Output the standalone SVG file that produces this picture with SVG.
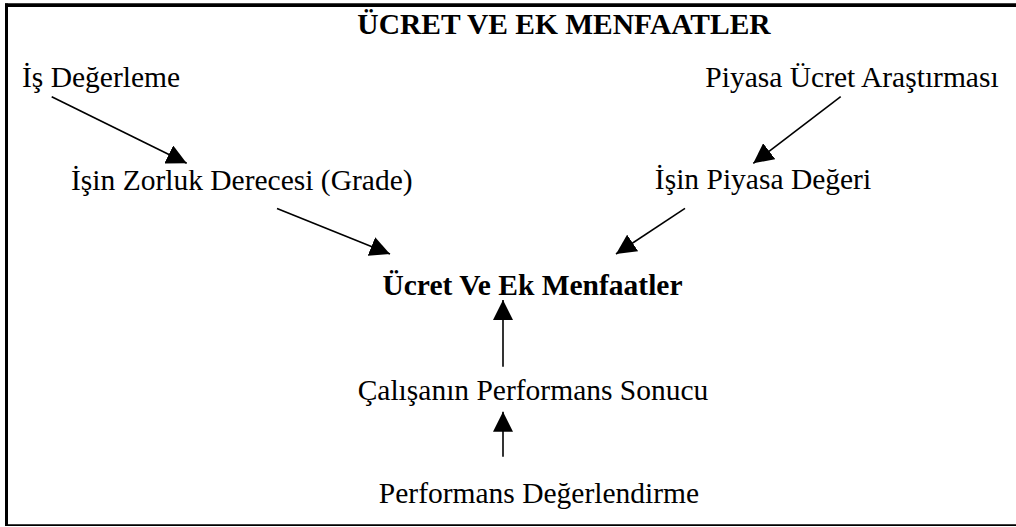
<svg xmlns="http://www.w3.org/2000/svg" width="1016" height="527" viewBox="0 0 1016 527">
  <style>
    text { font-family: "Liberation Serif", "Times New Roman", Times, serif; font-size: 29.5px; fill: #000; }
    .bold { font-weight: bold; }
    .edge { stroke: #000; stroke-width: 1.6; fill: none; marker-end: url(#head); }
    .frame { stroke: #000; fill: none; }
  </style>
  <defs>
    <marker id="head" markerUnits="userSpaceOnUse" markerWidth="20" markerHeight="20" refX="20" refY="10" orient="auto">
      <path d="M0,0 L20,10 L0,20 z" fill="#000"/>
    </marker>
  </defs>
  <rect width="1016" height="527" fill="#fff"/>

  <!-- outer frame (right side runs past the canvas) -->
  <g id="frame">
    <line class="frame" x1="5" y1="5.2" x2="1016" y2="5.2" stroke-width="3.7"/>
    <line class="frame" x1="6.5" y1="3.4" x2="6.5" y2="526" stroke-width="3"/>
    <line class="frame" x1="5" y1="525.2" x2="1016" y2="525.2" stroke-width="1.7"/>
  </g>

  <g id="title">
    <text class="bold" x="564" y="34" text-anchor="middle" font-size="30">ÜCRET VE EK MENFAATLER</text>
  </g>

  <g id="is-degerleme">
    <text x="22" y="87">İş Değerleme</text>
  </g>
  <g id="piyasa-ucret-arastirmasi">
    <text x="852" y="87" text-anchor="middle">Piyasa Ücret Araştırması</text>
  </g>
  <g id="isin-zorluk-derecesi">
    <text x="71" y="190">İşin Zorluk Derecesi (Grade)</text>
  </g>
  <g id="isin-piyasa-degeri">
    <text x="763" y="189" text-anchor="middle">İşin Piyasa Değeri</text>
  </g>
  <g id="ucret-ve-ek-menfaatler">
    <text class="bold" x="532.5" y="295" text-anchor="middle">Ücret Ve Ek Menfaatler</text>
  </g>
  <g id="performans-sonucu">
    <text x="533" y="400" text-anchor="middle">Çalışanın Performans Sonucu</text>
  </g>
  <g id="performans-degerlendirme">
    <text x="539" y="503" text-anchor="middle">Performans Değerlendirme</text>
  </g>

  <g id="connectors">
    <line class="edge" x1="51.7" y1="96.7" x2="186.7" y2="163.3"/>
    <line class="edge" x1="840.7" y1="96.7" x2="753.3" y2="163.3"/>
    <line class="edge" x1="277" y1="208.5" x2="390" y2="254"/>
    <line class="edge" x1="685" y1="208.3" x2="616" y2="254"/>
    <line class="edge" x1="503" y1="366.7" x2="503" y2="300"/>
    <line class="edge" x1="503" y1="456.7" x2="503" y2="411.7"/>
  </g>
</svg>
